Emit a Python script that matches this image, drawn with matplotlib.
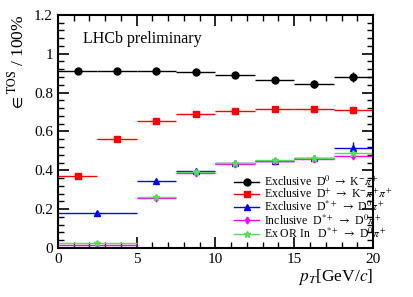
import numpy as np
import matplotlib
matplotlib.use("Agg")
import matplotlib.pyplot as plt
from matplotlib.ticker import MultipleLocator
from matplotlib.lines import Line2D

plt.rcParams['font.family'] = ['Liberation Serif', 'DejaVu Serif']
plt.rcParams['mathtext.fontset'] = 'stix'

# pT bins
fine_lo = [0, 2.5, 5, 7.5, 10, 12.5, 15, 17.5]
fine_hi = [2.5, 5, 7.5, 10, 12.5, 15, 17.5, 20]
coarse_lo = [0, 5, 7.5, 10, 12.5, 15, 17.5]
coarse_hi = [5, 7.5, 10, 12.5, 15, 17.5, 20]

# efficiencies
d0_eff = [0.912, 0.911, 0.910, 0.904, 0.888, 0.866, 0.845, 0.880]
d0_err = [0.004, 0.004, 0.004, 0.005, 0.007, 0.010, 0.020, 0.025]
dp_eff = [0.371, 0.560, 0.655, 0.690, 0.707, 0.715, 0.715, 0.710]
dp_err = [0.005, 0.005, 0.005, 0.005, 0.006, 0.007, 0.008, 0.010]
dst_ex = [0.180, 0.343, 0.395, 0.440, 0.450, 0.462, 0.517]
dst_ex_err = [0.004, 0.006, 0.007, 0.009, 0.011, 0.014, 0.030]
dst_in = [0.016, 0.258, 0.385, 0.430, 0.448, 0.458, 0.476]
dst_in_err = [0.002, 0.005, 0.006, 0.008, 0.010, 0.012, 0.015]
dst_or = [0.027, 0.265, 0.390, 0.436, 0.453, 0.464, 0.488]
dst_or_err = [0.002, 0.005, 0.006, 0.008, 0.010, 0.012, 0.015]

fig = plt.figure(figsize=(4.14, 2.97), dpi=100)
ax = fig.add_axes([0.140, 0.165, 0.761, 0.785])

handles = []


def draw(lo, hi, y, yerr, color, marker, ms, label):
    lo = np.array(lo); hi = np.array(hi)
    x = (lo + hi) / 2
    ax.errorbar(x, y, xerr=(hi - lo) / 2, yerr=yerr, fmt=marker, color=color,
                ms=ms, lw=1.0, capsize=0)
    handles.append(Line2D([], [], color=color, marker=marker, ms=ms, lw=1.0,
                          label=label))


draw(fine_lo, fine_hi, d0_eff, d0_err, 'black', 'o', 5,
     r'Exclusive  D$^0$ $\rightarrow$ K$^{-}\pi^{+}$')
draw(fine_lo, fine_hi, dp_eff, dp_err, 'red', 's', 5,
     r'Exclusive  D$^{+}$ $\rightarrow$ K$^{-}\pi^{+}\pi^{+}$')
draw(coarse_lo, coarse_hi, dst_ex, dst_ex_err, 'blue', '^', 5,
     r'Exclusive  D$^{*+}$ $\rightarrow$ D$^0\pi^{+}$')
draw(coarse_lo, coarse_hi, dst_in, dst_in_err, 'magenta', 'd', 3.5,
     r'Inclusive  D$^{*+}$ $\rightarrow$ D$^0\pi^{+}$')
draw(coarse_lo, coarse_hi, dst_or, dst_or_err, '#55dd55', '*', 4.5,
     r'Ex OR In   D$^{*+}$ $\rightarrow$ D$^0\pi^{+}$')

ax.set_xlim(0, 20)
ax.set_ylim(0, 1.2)
ax.xaxis.set_major_locator(MultipleLocator(5))
ax.xaxis.set_minor_locator(MultipleLocator(1))
ax.yaxis.set_major_locator(MultipleLocator(0.2))
ax.yaxis.set_minor_locator(MultipleLocator(0.04))
ax.tick_params(which='both', direction='in', top=True, right=True, labelsize=11)
ax.tick_params(which='major', length=8, width=1.2)
ax.tick_params(which='minor', length=4, width=1.0)
ax.set_yticks([0, 0.2, 0.4, 0.6, 0.8, 1, 1.2])
ax.set_yticklabels(['0', '0.2', '0.4', '0.6', '0.8', '1', '1.2'])
for s in ax.spines.values():
    s.set_linewidth(1.5)

ax.set_xlabel(r'$p_T$[GeV/$c$]', fontsize=12.5, loc='right', labelpad=1)
ax.set_ylabel(r'$\in^{\rm TOS}$ / 100%', fontsize=12.5, loc='top', labelpad=5)

ax.text(0.08, 0.88, 'LHCb preliminary', transform=ax.transAxes, fontsize=11.5)

leg = ax.legend(handles=handles, loc='upper left', bbox_to_anchor=(0.56, 0.315),
                frameon=False, fontsize=8.5, handlelength=2.1, handletextpad=0.4,
                labelspacing=-0.1, borderaxespad=0.0, borderpad=0.0)

fig.savefig('out.png', dpi=100)
